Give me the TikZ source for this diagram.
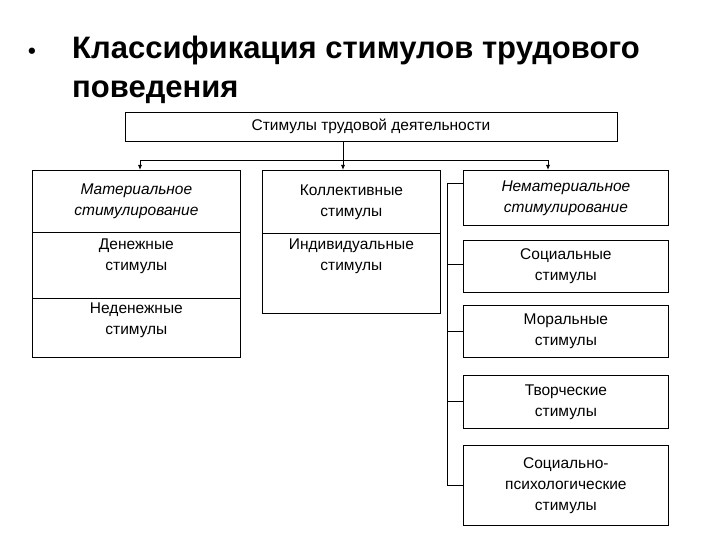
\documentclass[tikz,border=0pt]{standalone}
\usepackage{fontspec}
\setmainfont{Liberation Sans}
\usetikzlibrary{arrows.meta}
\begin{document}
\begin{tikzpicture}[x=1pt,y=-1pt,
  bx/.style={draw,line width=0.8pt,align=center,inner sep=0pt,font=\fontsize{15.5}{21}\selectfont},
  tx/.style={align=center,inner sep=0pt,anchor=north,font=\fontsize{15.5}{21}\selectfont},
  ln/.style={line width=0.8pt},
  ar/.style={line width=0.8pt,-{Latex[length=5pt,width=4pt]}}]
\useasboundingbox (0,0) rectangle (720,540);
\node[font=\fontsize{22}{22}\selectfont\bfseries] (b) at (32,53) {•};
\node[anchor=north west,align=left,font=\fontsize{31}{39}\selectfont\bfseries,inner sep=0pt] (t) at (72,36) {Классификация стимулов трудового\\поведения};
\node[bx,minimum width=492,minimum height=29] (top) at (371,126.5) {Стимулы трудовой деятельности};
% left
\node[bx,minimum width=208,minimum height=62,anchor=north west] (l1) at (32,170) {\itshape Материальное\\\itshape стимулирование};
\node[bx,minimum width=208,minimum height=66,anchor=north west] (l2) at (32,232) {};
\node[tx] (l2t) at (l2.north) [yshift=-7pt] {Денежные\\стимулы};
\node[bx,minimum width=208,minimum height=59,anchor=north west] (l3) at (32,298) {};
\node[tx] (l3t) at (l3.north) [yshift=-5pt] {Неденежные\\стимулы};
% middle
\node[bx,minimum width=178,minimum height=63,anchor=north west] (m1) at (262,170) {Коллективные\\стимулы};
\node[bx,minimum width=178,minimum height=80,anchor=north west] (m2) at (262,233) {};
\node[tx] (m2t) at (m2.north) [yshift=-6pt] {Индивидуальные\\стимулы};
% right
\node[bx,minimum width=205,minimum height=55,anchor=north west] (r1) at (463,170) {\itshape Нематериальное\\\itshape стимулирование};
\node[bx,minimum width=205,minimum height=52,anchor=north west] (r2) at (463,240) {Социальные\\стимулы};
\node[bx,minimum width=205,minimum height=52,anchor=north west] (r3) at (463,305) {Моральные\\стимулы};
\node[bx,minimum width=205,minimum height=53,anchor=north west] (r4) at (463,375) {Творческие\\стимулы};
\node[bx,minimum width=205,minimum height=80,anchor=north west] (r5) at (463,445) {Социально-\\психологические\\стимулы};
% connectors
\coordinate (h) at (343,160);
\draw[ar] (top.south -| h) -- (m1.north -| h);
\draw[ln] (140,160) -- (548,160);
\draw[ar] (140,160) -- (l1.north -| 140,0);
\draw[ar] (548,160) -- (r1.north -| 548,0);
\coordinate (v) at (447,183);
\draw[ln] (v) -- (447,485);
\foreach \n/\y in {r1/183,r2/264,r3/331,r4/401,r5/485}
  \draw[ln] (447,\y) -- (\n.west |- 0,\y);
\end{tikzpicture}
\end{document}
